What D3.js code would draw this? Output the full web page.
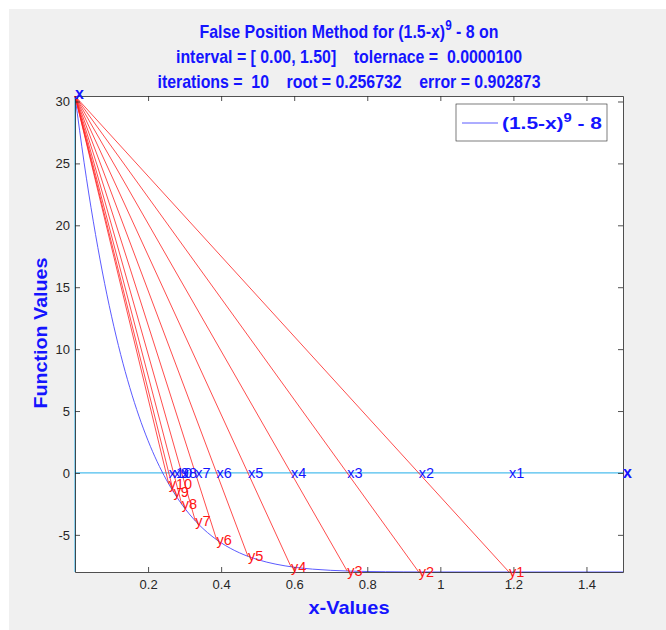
<!DOCTYPE html>
<meta charset="utf-8">

<style>

body {
  margin: 0;
  background: white;
}

svg.chart text {
  font-family: "Liberation Sans", Arial, sans-serif;
  white-space: pre;
}

svg.chart .axis text {
  font-size: 13px;
  fill: #262626;
}

svg.chart .axis path,
svg.chart .axis line {
  stroke: #262626;
  stroke-width: 0.8;
}

svg.chart .title {
  font-size: 19px;
  font-weight: bold;
  fill: #1414ff;
  text-anchor: middle;
}

</style>

<svg class="chart" width="666" height="630"></svg>

<script src="https://d3js.org/d3.v7.min.js"></script>

<script>

// interval and results of the false position iterations
var intervalA = 0, intervalB = 1.5;
var fA = 30.443359, fB = -8;
var iterX = [1.187856, 0.940669, 0.745020, 0.591209, 0.473386, 0.387649, 0.329314, 0.292174, 0.269761, 0.256723];
var iterY = [-7.999972, -7.994642, -7.920308, -7.577160, -6.733329, -5.392781, -3.869869, -2.529337, -1.546094, -0.902873];

// sampled curve (1.5-x)^9 - 8
var curveX = [0, 0.025, 0.05, 0.075, 0.1, 0.125, 0.15, 0.175, 0.2, 0.225, 0.25, 0.275, 0.3, 0.325, 0.35, 0.375,
  0.4, 0.45, 0.5, 0.55, 0.6, 0.65, 0.7, 0.75, 0.8, 0.85, 0.9, 0.95, 1.0, 1.1, 1.2, 1.3, 1.4, 1.5];
var curveY = [30.443, 25.047, 20.334, 16.229, 12.661, 9.568, 6.894, 4.588, 2.604, 0.904, -0.549, -1.788, -2.840, -3.731, -4.482, -5.113,
  -5.642, -6.449, -7.000, -7.370, -7.613, -7.768, -7.866, -7.925, -7.960, -7.979, -7.990, -7.995, -7.998, -8.000, -8.000, -8.000, -8.000, -8.000];

var xTicks = [0.2, 0.4, 0.6, 0.8, 1.0, 1.2, 1.4];
var yTicks = [-5, 0, 5, 10, 15, 20, 25, 30];

var svg = d3.select("svg.chart");
var plot = {left: 75, right: 623, top: 96, bottom: 572};

// figure background
svg.append("rect")
  .attr("x", 9).attr("y", 9)
  .attr("width", 666 - 9).attr("height", 630 - 9)
  .attr("fill", "#f0f0f0");

svg.append("rect")
  .attr("x", plot.left).attr("y", plot.top)
  .attr("width", plot.right - plot.left).attr("height", plot.bottom - plot.top)
  .attr("fill", "white");

var xScale = d3.scaleLinear()
  .domain([intervalA, intervalB])
  .range([plot.left, plot.right]);

var yScale = d3.scaleLinear()
  .domain([fB, fA])
  .range([plot.bottom, plot.top]);

// zero line and x = a line
svg.append("line")
  .attr("x1", xScale(intervalA)).attr("x2", xScale(intervalB))
  .attr("y1", yScale(0)).attr("y2", yScale(0))
  .attr("stroke", "#4dbeee").attr("stroke-width", 1.2);

svg.append("line")
  .attr("x1", xScale(intervalA)).attr("x2", xScale(intervalA))
  .attr("y1", yScale(fB)).attr("y2", yScale(fA))
  .attr("stroke", "#4dbeee").attr("stroke-width", 1.2);

// function curve
var curveData = curveX.map(function(x, i) { return [x, curveY[i]]; });
var line = d3.line()
  .x(function(d) { return xScale(d[0]); })
  .y(function(d) { return yScale(d[1]); })
  .curve(d3.curveMonotoneX);

svg.append("path")
  .datum(curveData)
  .attr("d", line)
  .attr("fill", "none")
  .attr("stroke", "#4848ff")
  .attr("stroke-width", 0.9);

// secant lines
svg.selectAll(".secant")
  .data(iterX)
  .enter().append("line")
  .attr("class", "secant")
  .attr("x1", xScale(intervalA))
  .attr("y1", yScale(fA))
  .attr("x2", function(d) { return xScale(d); })
  .attr("y2", function(d, i) { return yScale(iterY[i]); })
  .attr("stroke", "#ff2020")
  .attr("stroke-width", 0.8);

// axes
var plain = function(d) { return String(d); };

svg.append("g")
  .attr("class", "x axis")
  .attr("transform", `translate(0,${plot.bottom})`)
  .call(d3.axisBottom(xScale).tickValues(xTicks).tickSize(-5).tickSizeOuter(0).tickPadding(8)
    .tickFormat(plain));

svg.append("g")
  .attr("class", "x axis")
  .attr("transform", `translate(0,${plot.top})`)
  .call(d3.axisTop(xScale).tickValues(xTicks).tickSize(-5).tickSizeOuter(0).tickFormat(""));

svg.append("g")
  .attr("class", "y axis")
  .attr("transform", `translate(${plot.left},0)`)
  .call(d3.axisLeft(yScale).tickValues(yTicks).tickSize(-5).tickSizeOuter(0).tickPadding(5)
    .tickFormat(plain));

svg.append("g")
  .attr("class", "y axis")
  .attr("transform", `translate(${plot.right},0)`)
  .call(d3.axisRight(yScale).tickValues(yTicks).tickSize(-5).tickSizeOuter(0).tickFormat(""));

// iteration labels
svg.selectAll(".xlab")
  .data(iterX)
  .enter().append("text")
  .attr("x", function(d) { return xScale(d); })
  .attr("y", yScale(0))
  .attr("dy", "0.35em")
  .attr("fill", "#1414ff")
  .style("font-size", "14.5px")
  .text(function(d, i) { return "x" + (i + 1); });

svg.selectAll(".ylab")
  .data(iterX)
  .enter().append("text")
  .attr("x", function(d) { return xScale(d); })
  .attr("y", function(d, i) { return yScale(iterY[i]); })
  .attr("dy", "0.35em")
  .attr("fill", "#ff1414")
  .style("font-size", "14.5px")
  .text(function(d, i) { return "y" + (i + 1); });

// endpoint markers
svg.append("text")
  .attr("x", xScale(intervalA))
  .attr("y", yScale(fA))
  .attr("dy", "0.2em")
  .attr("fill", "#1414ff")
  .style("font-size", "16px").style("font-weight", "bold")
  .text("x");

svg.append("text")
  .attr("x", xScale(intervalB))
  .attr("y", yScale(0))
  .attr("dy", "0.3em")
  .attr("fill", "#1414ff")
  .style("font-size", "16px").style("font-weight", "bold")
  .text("x");

// titles
var cx = (plot.left + plot.right) / 2;
var t1 = svg.append("text").attr("class", "title").attr("x", cx).attr("y", 38)
  .attr("textLength", 299).attr("lengthAdjust", "spacingAndGlyphs");
t1.append("tspan").text("False Position Method for (1.5-x)");
t1.append("tspan").attr("dy", -8).style("font-size", "14px").text("9");
t1.append("tspan").attr("dy", 8).text(" - 8 on");

svg.append("text").attr("class", "title").attr("x", cx).attr("y", 63)
  .attr("textLength", 346).attr("lengthAdjust", "spacingAndGlyphs")
  .text("interval = [ 0.00, 1.50]    tolernace =  0.0000100");

svg.append("text").attr("class", "title").attr("x", cx).attr("y", 88)
  .attr("textLength", 383).attr("lengthAdjust", "spacingAndGlyphs")
  .text("iterations =  10    root = 0.256732    error = 0.902873");

// axis labels
svg.append("text").attr("class", "title")
  .attr("x", cx).attr("y", 614)
  .attr("textLength", 81).attr("lengthAdjust", "spacingAndGlyphs")
  .text("x-Values");

svg.append("text").attr("class", "title")
  .attr("transform", "translate(47,333) rotate(-90)")
  .attr("textLength", 151).attr("lengthAdjust", "spacingAndGlyphs")
  .text("Function Values");

// legend
var legend = svg.append("g");
legend.append("rect")
  .attr("x", 456).attr("y", 104).attr("width", 151).attr("height", 37)
  .attr("fill", "white").attr("stroke", "#262626").attr("stroke-width", 0.6);
legend.append("line")
  .attr("x1", 462).attr("x2", 498).attr("y1", 123).attr("y2", 123)
  .attr("stroke", "#4848ff").attr("stroke-width", 0.9);
var lt = legend.append("text")
  .attr("x", 502).attr("y", 129)
  .attr("fill", "#1414ff")
  .style("font-size", "17px").style("font-weight", "bold")
  .attr("textLength", 100).attr("lengthAdjust", "spacingAndGlyphs");
lt.append("tspan").text("(1.5-x)");
lt.append("tspan").attr("dy", -7).style("font-size", "12px").text("9");
lt.append("tspan").attr("dy", 7).text(" - 8");

</script>
